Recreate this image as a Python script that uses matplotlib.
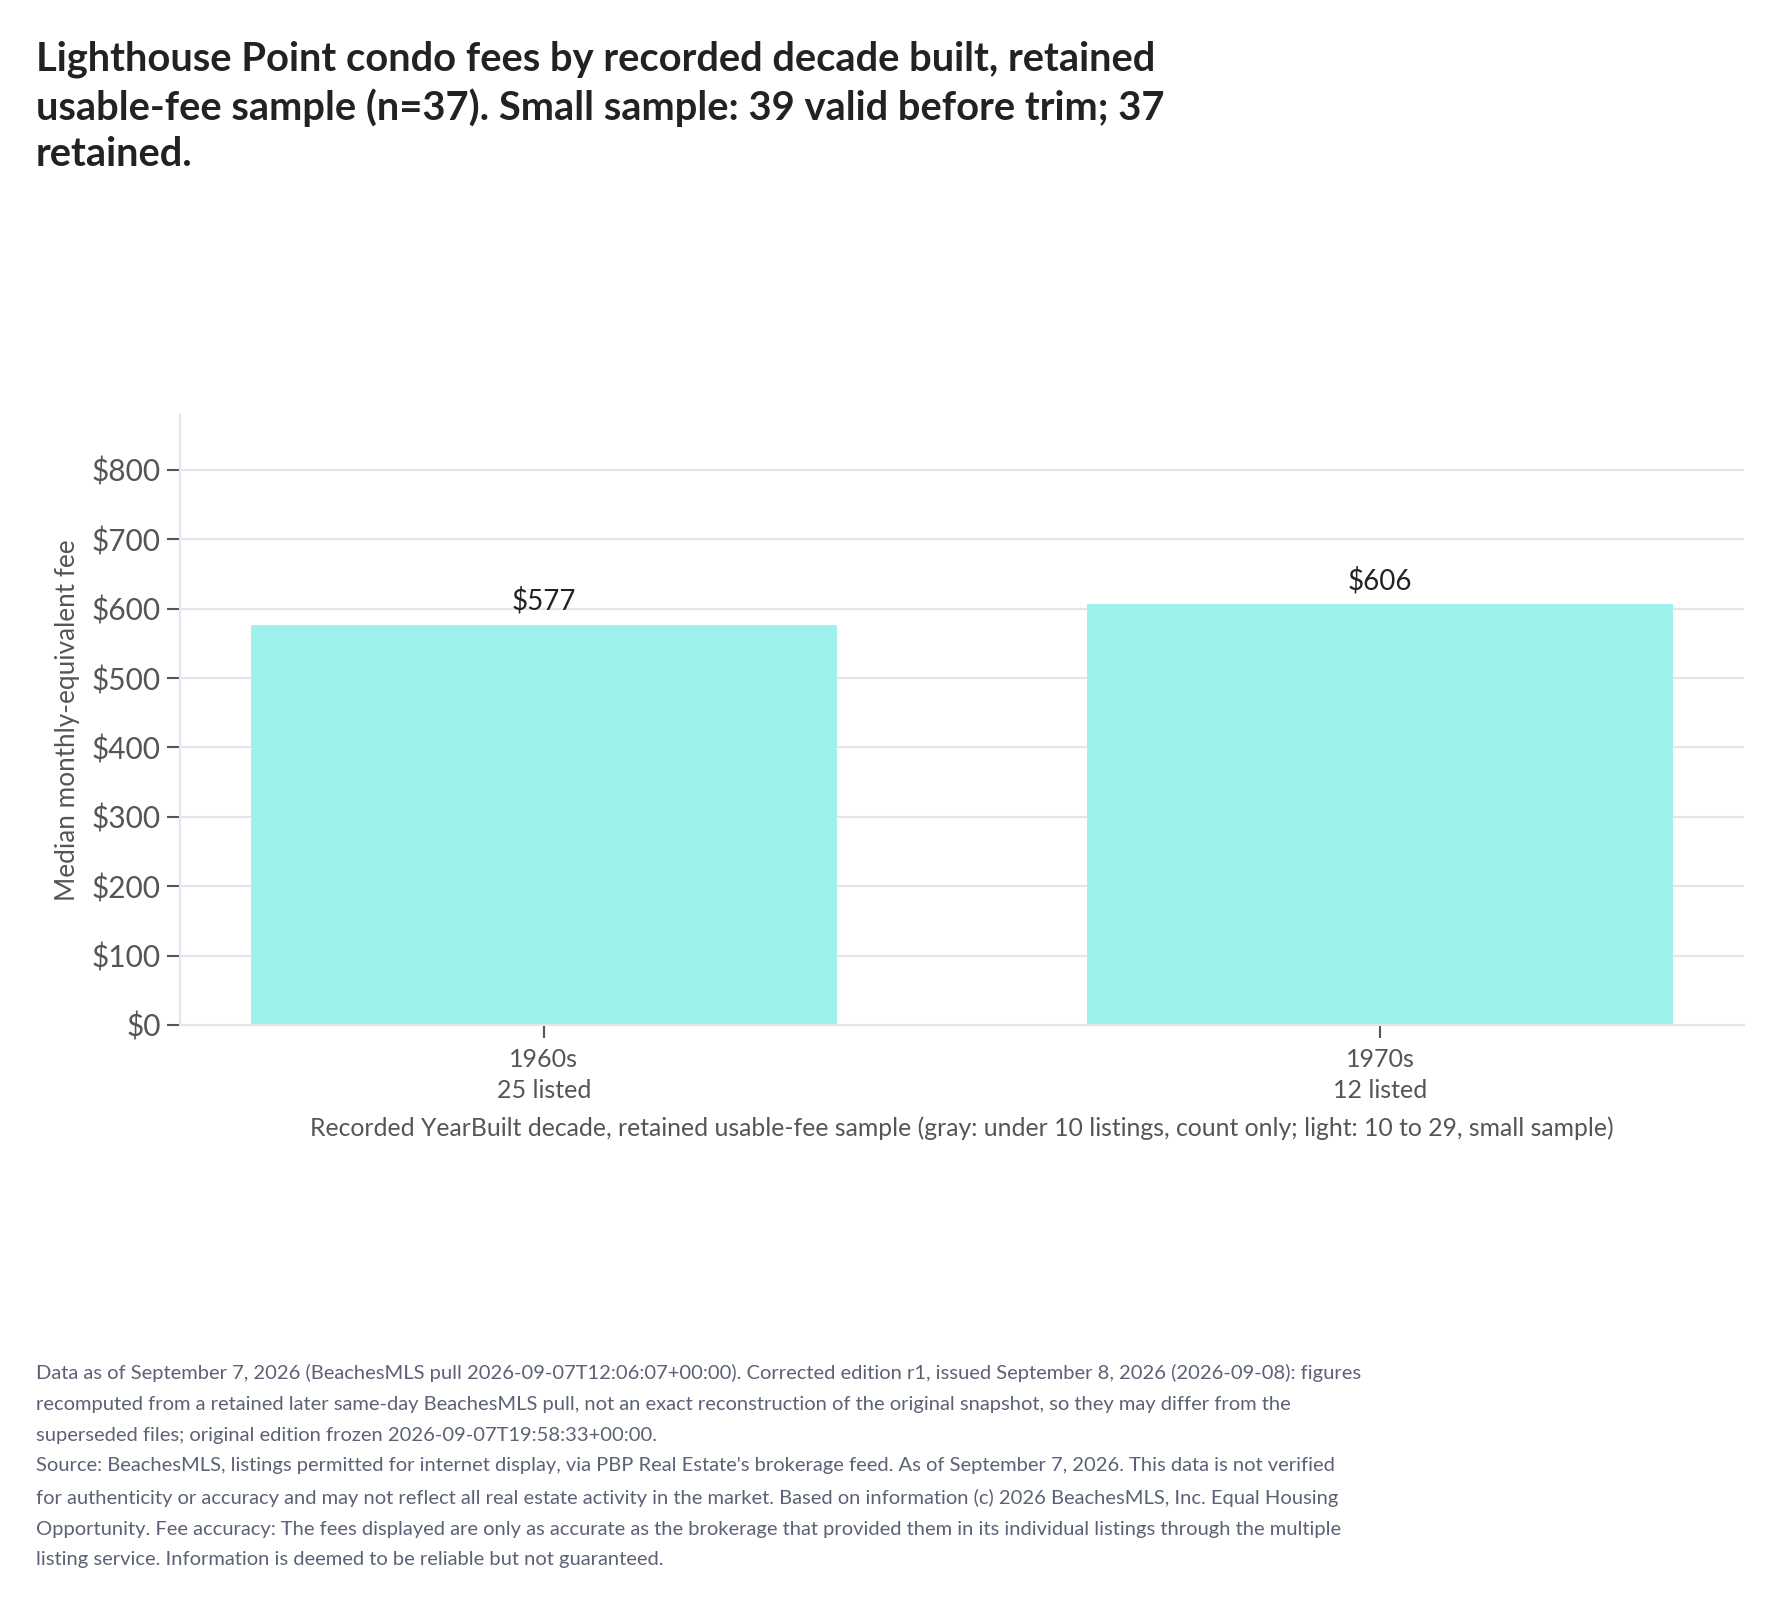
import matplotlib
matplotlib.use("Agg")
import matplotlib.pyplot as plt
from matplotlib.ticker import FuncFormatter, MultipleLocator

plt.rcParams['font.family'] = ['Lato', 'DejaVu Sans']

decades = ["1960s", "1970s"]
listed = [25, 12]
median_fee = [577, 606]

title = ("Lighthouse Point condo fees by recorded decade built, retained\n"
         "usable-fee sample (n=37). Small sample: 39 valid before trim; 37\n"
         "retained.")
xlabel = ("Recorded YearBuilt decade, retained usable-fee sample (gray: under 10 listings, "
          "count only; light: 10 to 29, small sample)")
ylabel = "Median monthly-equivalent fee"
footer = ("Data as of September 7, 2026 (BeachesMLS pull 2026-09-07T12:06:07+00:00). Corrected edition r1, issued September 8, 2026 (2026-09-08): figures\n"
          "recomputed from a retained later same-day BeachesMLS pull, not an exact reconstruction of the original snapshot, so they may differ from the\n"
          "superseded files; original edition frozen 2026-09-07T19:58:33+00:00.\n"
          "Source: BeachesMLS, listings permitted for internet display, via PBP Real Estate's brokerage feed. As of September 7, 2026. This data is not verified\n"
          "for authenticity or accuracy and may not reflect all real estate activity in the market. Based on information (c) 2026 BeachesMLS, Inc. Equal Housing\n"
          "Opportunity. Fee accuracy: The fees displayed are only as accurate as the brokerage that provided them in its individual listings through the multiple\n"
          "listing service. Information is deemed to be reliable but not guaranteed.")

W, H = 1782, 1605
fig = plt.figure(figsize=(W / 100, H / 100), dpi=100)
fig.patch.set_facecolor("white")

left, right, top, bottom = 180, 1744, 415, 1025
ax = fig.add_axes([left / W, 1 - bottom / H, (right - left) / W, (bottom - top) / H])

grid_c = "#e4e4f0"
bar_c = "#9ef2ec"
tick_c = "#555555"

x = list(range(len(decades)))
bars = ax.bar(x, median_fee, width=0.7, color=bar_c, zorder=2)
for xi, v in zip(x, median_fee):
    ax.annotate(f"${v:,}", (xi, v), xytext=(0, 7), textcoords="offset points",
                ha="center", va="bottom", fontsize=20, color="#222222")

ax.set_xlim(-0.435, 1.435)
ax.set_ylim(0, 879)
ax.yaxis.set_major_locator(MultipleLocator(100))
ax.yaxis.set_major_formatter(FuncFormatter(lambda v, p: f"${v:,.0f}"))
ax.set_xticks(x)
ax.set_xticklabels([f"{d}\n{n} listed" for d, n in zip(decades, listed)])

ax.grid(axis="y", color=grid_c, linewidth=1.5, zorder=0)
ax.set_axisbelow(True)
for s in ["top", "right"]:
    ax.spines[s].set_visible(False)
ax.spines["left"].set_color(grid_c)
ax.spines["bottom"].set_color(grid_c)
ax.spines["left"].set_linewidth(1.5)
ax.spines["bottom"].set_linewidth(1.5)

ax.tick_params(axis="y", labelsize=21.5, colors=tick_c, length=9.5, width=1.5, pad=4.5)
ax.tick_params(axis="x", labelsize=18, colors=tick_c, length=9.5, width=1.5, pad=7)
for lbl in ax.get_xticklabels():
    lbl.set_linespacing(1.45)

ax.set_ylabel(ylabel, fontsize=18.8, color=tick_c, labelpad=8)
ax.set_xlabel(xlabel, fontsize=17.8, color=tick_c, labelpad=10)

fig.text(36 / W, 1 - 40 / H, title, fontsize=28.7, fontweight="bold", color="#222222",
         ha="left", va="top", linespacing=1.33)

fig.text(36 / W, 1 - 1364 / H, footer, fontsize=14.5, color="#5b6275",
         ha="left", va="top", linespacing=1.98)

fig.savefig("out.png", dpi=100, facecolor="white")
